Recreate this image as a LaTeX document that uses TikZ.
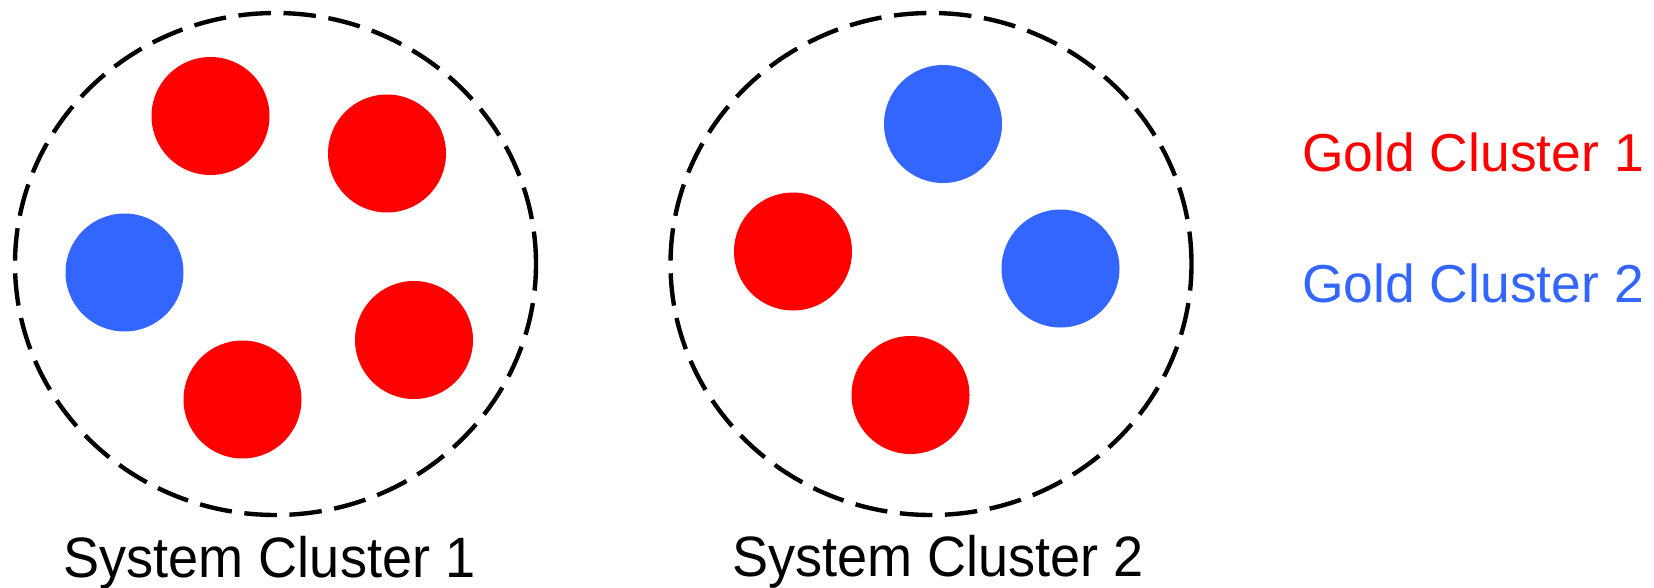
\documentclass[tikz,border=0pt]{standalone}
\usepackage{fontspec}
\setmainfont{Liberation Sans}
\newfontfamily\sysfont[FakeStretch=0.95]{Liberation Sans}
\definecolor{goldred}{RGB}{255,0,0}
\definecolor{goldblue}{RGB}{51,102,255}
\tikzset{
  ring/.style={draw=black, line width=2.5pt, dash pattern=on 18.5pt off 7.2pt},
  reddot/.style={fill=goldred},
  bluedot/.style={fill=goldblue},
  syslabel/.style={anchor=base, inner sep=0pt, font=\sysfont\fontsize{32.4pt}{36pt}\selectfont},
  goldlabel/.style={anchor=base west, inner sep=0pt, font=\fontsize{30.4pt}{34pt}\selectfont}
}

\begin{document}
\begin{tikzpicture}
\useasboundingbox (0,0) rectangle (33.08,11.74);
% System cluster 1
\draw[ring] (5.51,6.46) ellipse (5.21 and 5.02);
\fill[reddot] (4.21,9.42) circle (1.18);
\fill[reddot] (7.74,8.67) circle (1.18);
\fill[bluedot] (2.49,6.29) circle (1.18);
\fill[reddot] (8.28,4.94) circle (1.18);
\fill[reddot] (4.85,3.75) circle (1.18);
\node[syslabel] (sys1) at (5.39,0.2) {System Cluster 1};
% System cluster 2
\draw[ring] (18.62,6.46) ellipse (5.21 and 5.02);
\fill[bluedot] (18.86,9.26) circle (1.18);
\fill[reddot] (15.86,6.71) circle (1.18);
\fill[bluedot] (21.21,6.37) circle (1.18);
\fill[reddot] (18.21,3.84) circle (1.18);
\node[syslabel] (sys2) at (18.76,0.22) {System Cluster 2};
% Legend
\node[goldlabel, text=goldred] (gold1) at (26.04,8.3) {Gold Cluster 1};
\node[goldlabel, text=goldblue] (gold2) at (26.04,5.7) {Gold Cluster 2};
\end{tikzpicture}
\end{document}
